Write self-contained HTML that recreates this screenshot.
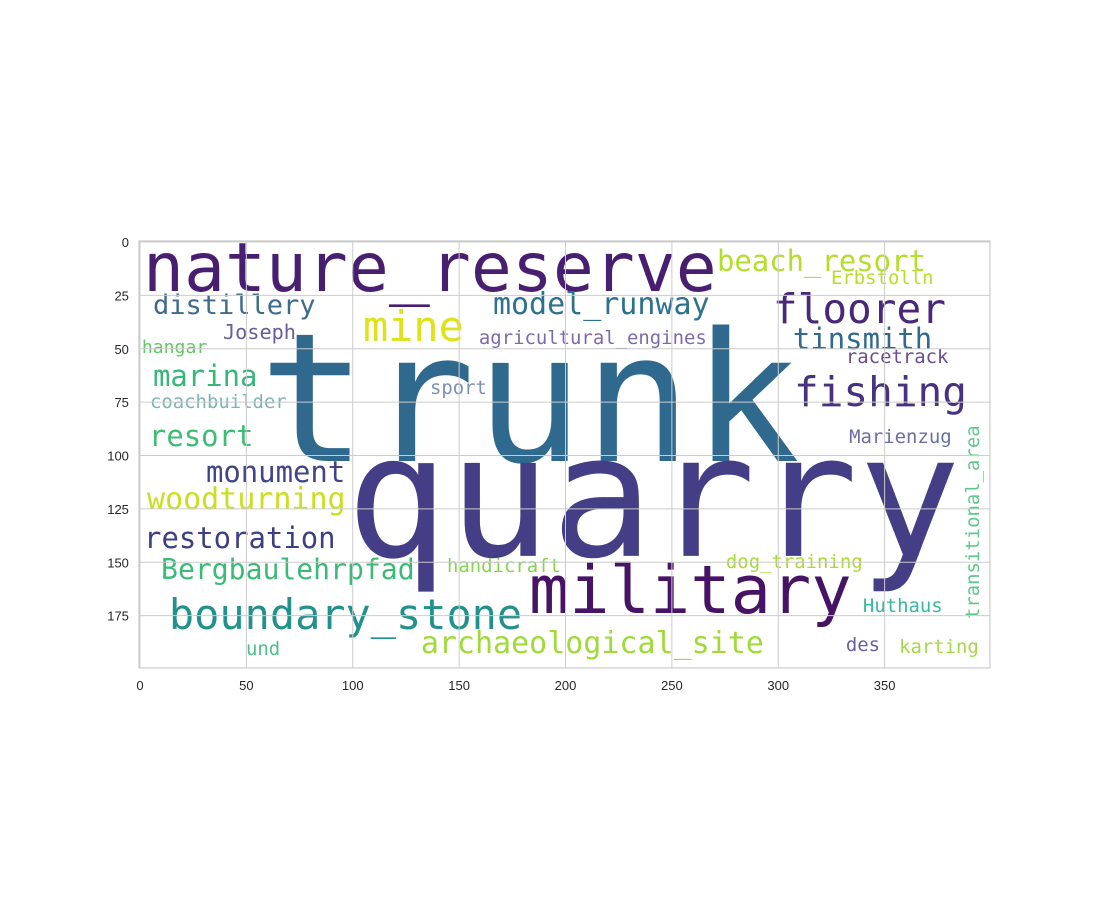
<!DOCTYPE html>
<html><head><meta charset="utf-8">
<style>
html,body{margin:0;padding:0;background:#fff;}
svg{display:block;}
.tick{font-family:"Liberation Sans","DejaVu Sans",sans-serif;font-size:13px;fill:#262626;}
.word{font-family:"DejaVu Sans Mono","Liberation Mono",monospace;}
</style></head>
<body>
<svg id="chart" width="1100" height="900" viewBox="0 0 1100 900" xmlns="http://www.w3.org/2000/svg">
<rect width="1100" height="900" fill="#fff"/>
<g id="plot"></g>
</svg>
<script>
const words = ["trunk","quarry","nature_reserve","military","boundary_stone","archaeological_site","floorer","fishing","mine","beach_resort","model_runway","distillery","tinsmith","Erbstolln","Joseph","hangar","agricultural_engines","marina","racetrack","sport","coachbuilder","resort","Marienzug","transitional_area","monument","woodturning","restoration","Bergbaulehrpfad","handicraft","dog_training","Huthaus","des","karting","und"];
const wordX = [55.9,96.8,1.4,182.8,13.6,132,297.5,307.4,104.8,271.2,165.9,6.1,306.9,324.8,39,0.9,159.3,6.1,331.8,136.3,4.7,4.2,333.3,394.4,31,3.3,1.9,9.9,144.3,275.4,339.8,331.8,356.8,49.8];
const wordY = [102.6,147,23,173.8,181.3,192.5,37.9,76.8,46.4,13.6,33.7,33.7,50.1,19.7,45.4,52,47.8,67.4,56.7,71.2,77.8,95.6,94.1,176.6,112.4,125.1,143.3,157.8,154.6,152.7,173.3,191.6,192.5,193.4];
const wordSize = [84.5,80,32,31.5,19.7,14.1,19.3,19.3,19.7,13.6,14.1,12.7,13.6,8.9,9.5,8.5,8.9,13.6,8.9,8.9,8.9,13.6,8.9,8.9,13.6,14.1,13.6,13.2,8.9,8.9,8.9,8.9,8.9,8.9];
const wordColor = ["#2f6a8e","#433e85","#481f70","#471365","#21918c","#a0da39","#482878","#46327e","#dde318","#b5de2b","#2c728e","#3e6b8a","#31688e","#b8de29","#6a5d9a","#5ec962","#7d6ba7","#35b779","#6a4c93","#7d8fb0","#7fb3b5","#3dbc74","#6a6fa0","#5ec98a","#414487","#c8e020","#3e3f82","#3aba76","#86d549","#a8db34","#37b8a0","#6b5ea0","#a4d84a","#4fc08a"];
const wordRot = [0,0,0,0,0,0,0,0,0,0,0,0,0,0,0,0,0,0,0,0,0,0,0,-90,0,0,0,0,0,0,0,0,0,0];
const xTicks = [0,50,100,150,200,250,300,350];
const yTicks = [0,25,50,75,100,125,150,175];

const NS="http://www.w3.org/2000/svg";
const plot=document.getElementById('plot');
const X0=140, SX=2.1275, Y0=242, SY=2.135;
const xs=v=>X0+v*SX, ys=v=>Y0+v*SY;
function mk(tag,attrs){const e=document.createElementNS(NS,tag);for(const k in attrs)e.setAttribute(k,attrs[k]);plot.appendChild(e);return e;}

words.forEach((w,i)=>{
  const t=mk('text',{x:xs(wordX[i]),y:ys(wordY[i]),'font-size':wordSize[i]*SX,fill:wordColor[i],class:'word'});
  if(wordRot[i]) t.setAttribute('transform',`rotate(${wordRot[i]} ${xs(wordX[i])} ${ys(wordY[i])})`);
  t.textContent=w;
  
  
});
xTicks.forEach(v=>{
  const l=mk('line',{x1:xs(v),x2:xs(v),y1:ys(-0.5),y2:ys(199.5),stroke:'#cccccc','stroke-width':1});
  
  
  const t=mk('text',{x:xs(v),y:ys(199.5)+22,'text-anchor':'middle',class:'tick'});
  t.textContent=v;
  
  
});
yTicks.forEach(v=>{
  const l=mk('line',{x1:xs(-0.5),x2:xs(399.5),y1:ys(v),y2:ys(v),stroke:'#cccccc','stroke-width':1});
  
  
  const t=mk('text',{x:xs(-0.5)-10,y:ys(v)+5,'text-anchor':'end',class:'tick'});
  t.textContent=v;
  
  
});
const f=mk('rect',{x:xs(-0.5),y:ys(-0.5),width:400*SX,height:200*SY,fill:'none',stroke:'#cccccc','stroke-width':1.2});


</script>
</body></html>
